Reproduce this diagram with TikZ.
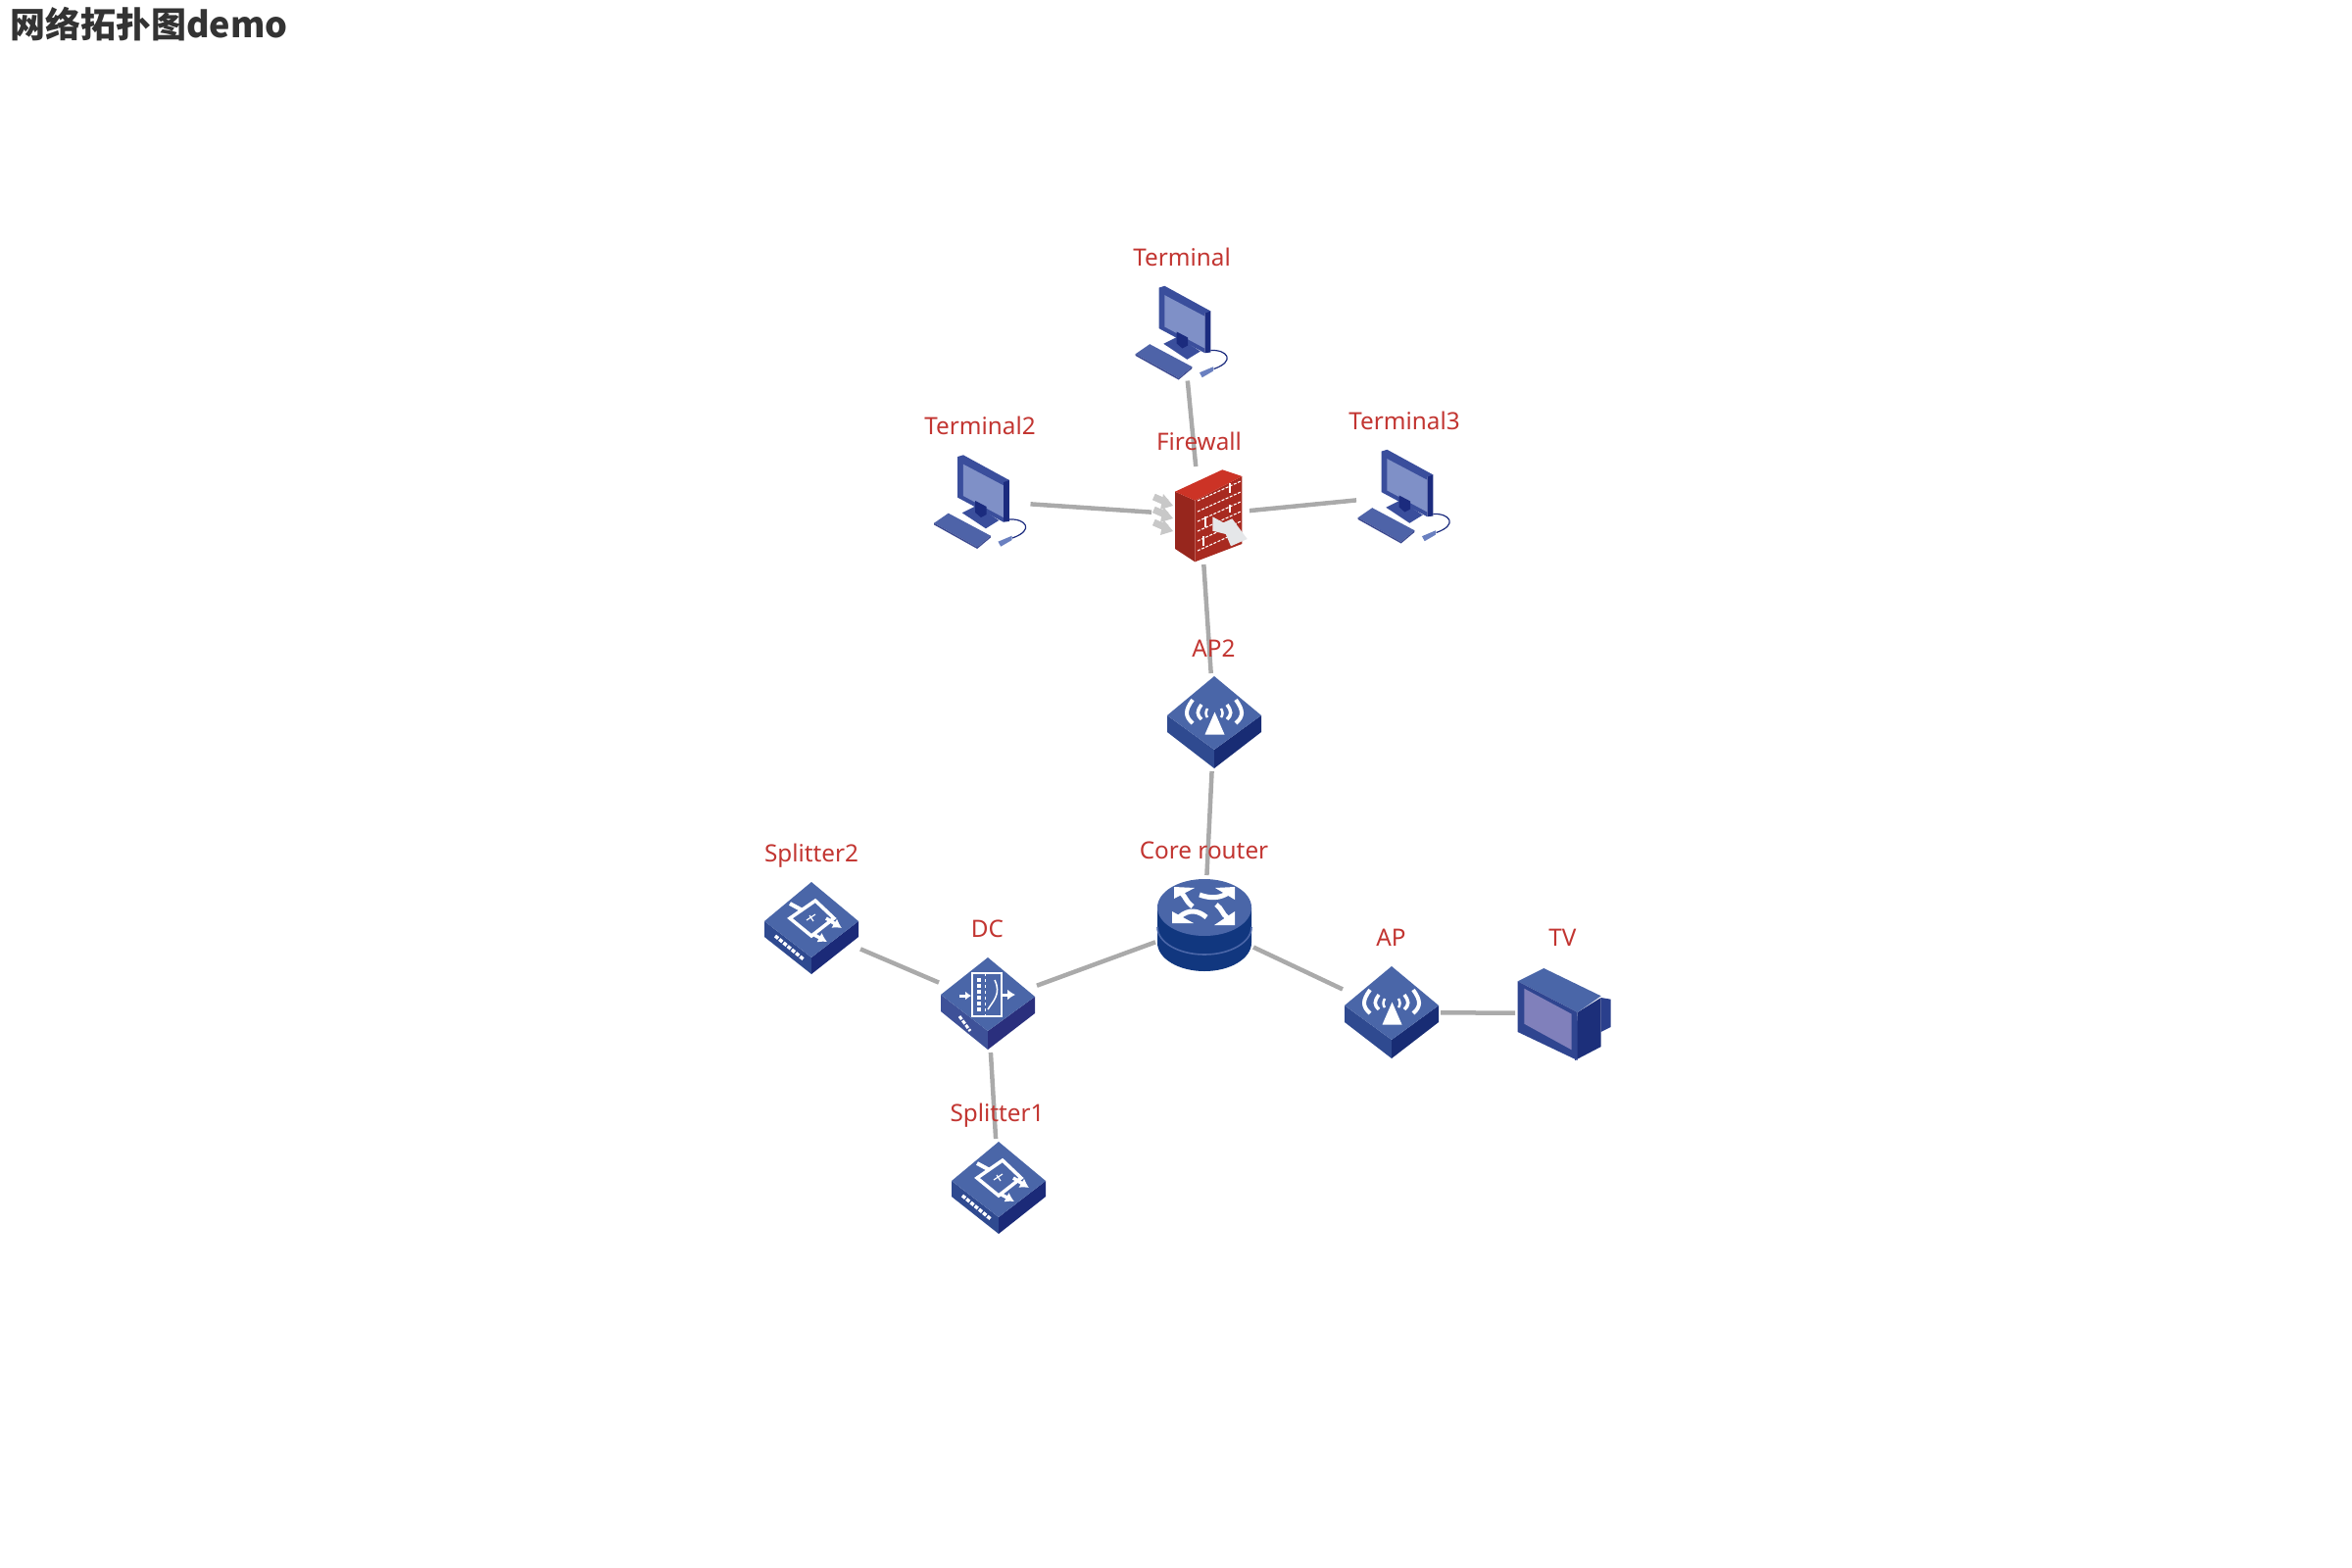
\documentclass[tikz,border=0pt]{standalone}
\usepackage{fontspec}
\setmainfont{Noto Sans}
\newfontfamily\titlefont{Noto Sans CJK SC}
\usetikzlibrary{arrows.meta}
\definecolor{lab}{HTML}{C23531}
\definecolor{edgegray}{HTML}{AAAAAA}
\definecolor{bTop}{HTML}{4A66A8}
\definecolor{bLeft}{HTML}{2F4A90}
\definecolor{bRight}{HTML}{182C74}
\definecolor{sRight}{HTML}{1B2A78}
\definecolor{dLeft}{HTML}{3E5198}
\definecolor{dRight}{HTML}{2A2F7D}
\definecolor{tvSide}{HTML}{1C2F7A}
\definecolor{rBody}{HTML}{11377F}
\definecolor{pcFrame}{HTML}{3A4E9C}
\definecolor{pcSide}{HTML}{1B2B7E}
\definecolor{pcScreen}{HTML}{7F90C7}
\definecolor{pcKey}{HTML}{4E63A8}
\definecolor{pcMouse}{HTML}{6A80C0}
\definecolor{fwTop}{HTML}{CC3326}
\definecolor{fwFace}{HTML}{A82A20}
\definecolor{fwArrow}{HTML}{E5E7E9}
\definecolor{fwGray}{HTML}{C8C8C8}
\definecolor{tvScreen}{HTML}{8080BB}
\definecolor{tvFront}{HTML}{2F4590}
\definecolor{tvBack}{HTML}{2A3F8C}
\tikzset{
  dev/.style={rectangle,minimum width=100pt,minimum height=100pt,inner sep=0pt,outer sep=0pt},
  link/.style={draw=edgegray,line width=4.5pt},
  lbl/.style={text=lab,font=\fontsize{24.3}{24.3}\selectfont,anchor=base,inner sep=0pt},
  wht/.style={draw=white,line width=3pt,line cap=butt},
  wthin/.style={draw=white,line width=1.6pt},
  blockbase/.pic={
    \fill[bLeft] (-48,-7) -- (0,28) -- (0,47) -- (-48,10) -- cycle;
    \fill[bRight] (48,-7) -- (0,28) -- (0,47) -- (48,10) -- cycle;
    \fill[bTop] (0,-47) -- (48,-7) -- (0,28) -- (-48,-7) -- cycle;
  },
  apicon/.pic={
    \pic {blockbase};
    \fill[white] (-9.5,12.5) -- (10.5,12.5) -- (0.5,-10.5) -- cycle;
    \foreach \s in {-1,1}{
      \draw[wht,line width=4pt] (\s*22,-23) .. controls (\s*30,-12) and (\s*30,-6) .. (\s*22,1);
      \draw[wht,line width=3.5pt] (\s*13,-18) .. controls (\s*18,-11) and (\s*18,-8) .. (\s*13,-3);
      \draw[wht,line width=2.5pt] (\s*7,-14) .. controls (\s*9,-10) and (\s*9,-8) .. (\s*7,-5);
    }
  },
  routericon/.pic={
    \fill[rBody] (-48,-17) -- (-48,19) arc[start angle=180,end angle=0,x radius=48,y radius=29] -- (48,-17) -- cycle;
    \draw[bTop,line width=1.6pt] (-48,3) arc[start angle=180,end angle=0,x radius=48,y radius=28];
    \fill[bTop] (0,-17) ellipse[x radius=48,y radius=29];
    \fill[white] (-31,-38) -- (-10,-37) -- (-31,-26) -- cycle;
    \fill[white] (31,-38) -- (11,-37) -- (31,-25) -- cycle;
    \fill[white] (-33,-1) -- (-11,-1) -- (-33,-13) -- cycle;
    \fill[white] (31,1) -- (10,1) -- (31,-13) -- cycle;
    \draw[wht,line width=5pt] (-24,-32) .. controls (-18,-27) and (-20,-24) .. (-12,-18);
    \draw[wht,line width=5pt] (26,-33) .. controls (16,-26) and (6,-26) .. (-5,-30);
    \draw[wht,line width=5pt] (-26,-7) .. controls (-16,-16) and (-6,-14) .. (2,-7);
    \draw[wht,line width=5pt] (24,-6) .. controls (18,-10) and (18,-16) .. (12,-20);
  },
  splittericon/.pic={
    \fill[bLeft] (-48,-7) -- (0,30) -- (0,47) -- (-48,9) -- cycle;
    \fill[sRight] (48,-7) -- (0,30) -- (0,47) -- (48,9) -- cycle;
    \fill[bTop] (0,-47) -- (48,-7) -- (0,30) -- (-48,-7) -- cycle;
    \draw[wht,line width=3.5pt] (4,-28) -- (23,-10) -- (0,8) -- (-22,-10) -- cycle;
    \draw[wht,line width=3.5pt,-{Latex[length=9pt,width=11pt]}] (15,-10) -- (31,0);
    \draw[wht,line width=3.5pt,-{Latex[length=9pt,width=11pt]}] (3,7) -- (16,14);
    \draw[wht,line width=4pt] (-22,-25) -- (-9,-18);
    \draw[wthin,line width=1.2pt] (-5,-8) -- (4,-14) (-2,-13) -- (2,-7);
    \draw[white,line width=3.5pt,dash pattern=on 4pt off 1.5pt] (-37,8) -- (-8,32);
  },
  dcicon/.pic={
    \fill[dLeft] (-48,-9) -- (0,28) -- (0,47) -- (-48,8) -- cycle;
    \fill[dRight] (48,-7) -- (0,28) -- (0,47) -- (48,10) -- cycle;
    \fill[bTop] (0,-47) -- (48,-7) -- (0,28) -- (-48,-9) -- cycle;
    \draw[white,line width=1.8pt] (-16,-31) rectangle (14,13);
    \draw[white,line width=1pt,dashed] (-3,-31) -- (-3,13);
    \draw[white,line width=1.5pt] (7,-24) .. controls (14,-10) and (5,-2) .. (0,6);
    \draw[white,line width=3.5pt,dash pattern=on 4pt off 2pt] (-9,-26) -- (-9,8);
    \draw[wht,-{Latex[length=6pt,width=9pt]}] (-29,-8) -- (-17,-8);
    \draw[wht,-{Latex[length=8pt,width=11pt]}] (15,-9) -- (28,-9);
    \draw[white,line width=3pt,dash pattern=on 4pt off 1.5pt] (-29,13) -- (-18,28);
  },
  pcicon/.pic={
    \begin{scope}[xscale=1.145,xshift=-0.5pt]
    \fill[pcSide] (25.3,-21) -- (25.3,21) -- (20,21.7) -- (20,-23) -- cycle;
    \fill[pcFrame] (-20.7,-45) -- (-15.7,-46.7) -- (25.3,-21) -- (20,-19) -- (20,21.7) -- (-20.7,-3.3) -- cycle;
    \fill[pcScreen] (-15.7,-37.3) -- (20,-15.7) -- (20,17) -- (-15.7,-5) -- cycle;
    \fill[pcFrame] (-16.7,12.3) -- (-4,5) -- (16,20) -- (4.3,28.3) -- cycle;
    \fill[pcSide] (-5,0) -- (5,6) -- (5,14) -- (0,17) -- (-5,12) -- cycle;
    \fill[pcKey] (-41.7,22.7) -- (-29,12.7) -- (8.7,35.7) -- (-3.3,47.3) -- cycle;
    \fill[pcSide!85!white] (-41.7,22.7) -- (-3.3,47.3) -- (8.7,35.7) -- (8.7,37.5) -- (-3.3,49) -- (-41.7,24.5) -- cycle;
    \draw[pcSide,line width=1.2pt] (25.3,19) .. controls (40,18) and (48,30) .. (28,38);
    \fill[pcMouse] (15.3,41.7) -- (27.7,35.7) -- (27.7,40) -- (17.7,46.7) -- cycle;
    \end{scope}
  },
  fwicon/.pic={
    \foreach \yy in {-19,-6,7}{
      \draw[fwGray,line width=7pt] (-47.7,\yy) -- (-34,\yy+6);
      \fill[fwGray] (-38,\yy-3) -- (-28,\yy+9) -- (-41,\yy+13) -- cycle;
    }
    \fill[fwFace!90!black] (-26,-24.3) -- (-5.7,-15.3) -- (-5.7,47.3) -- (-26,34) -- cycle;
    \fill[fwFace] (-5.7,-15.3) -- (42.3,-40) -- (42.3,29) -- (-5.7,47.3) -- cycle;
    \fill[fwTop] (-26,-24.3) -- (22.3,-46.7) -- (42.3,-40) -- (-5.7,-15.3) -- cycle;
    \foreach \yy in {-15,-4,6,16,26,36}{
      \draw[white,line width=1.1pt,dash pattern=on 3pt off 1.5pt] (-3,\yy) -- (41,\yy-20);
    }
    \draw[white,line width=1.2pt] (30,-33) -- (30,-23) (30,-11) -- (30,-3) (5,1) -- (5,12) (3,21) -- (3,31);
    \fill[fwArrow] (12.3,1.3) -- (23.3,7.3) -- (32.3,3.3) -- (47.7,24) -- (31,31.3) -- (25.7,19) -- (12.3,15.7) -- cycle;
  },
  tvicon/.pic={
    \fill[tvBack] (37.7,-16) -- (47.7,-14.3) -- (47.7,14) -- (37.7,19) -- cycle;
    \fill[tvSide] (13.7,-1) -- (37.7,-16) -- (37.7,34) -- (11,48) -- cycle;
    \fill[bTop] (-47.3,-32.7) -- (-20.7,-46) -- (37.7,-17.7) -- (13.7,-1) -- cycle;
    \fill[tvFront] (-47.3,-32.7) -- (13.7,-1) -- (13.7,48) -- (-47.3,19) -- cycle;
    \fill[tvScreen] (-40.7,-25.3) -- (7.7,0.7) -- (7.7,37.3) -- (-40.7,10.7) -- cycle;
  }
}
\begin{document}
\begin{tikzpicture}[x=1pt,y=-1pt]
\useasboundingbox (0,0) rectangle (2400,1600);
% title
\node[anchor=base west,inner sep=0pt,text=black!80] (title) at (10,38.5)
  {\titlefont\bfseries\fontsize{36}{36}\selectfont 网络拓扑图demo};
% device boxes
\node[dev] (terminal) at (1207,338.5) {};
\node[dev] (terminal2) at (1001.5,511) {};
\node[dev] (terminal3) at (1434,505.5) {};
\node[dev] (firewall) at (1225,526) {};
\node[dev] (ap2) at (1239,737) {};
\node[dev] (core) at (1229,943) {};
\node[dev] (ap) at (1420,1033) {};
\node[dev] (tv) at (1596,1034) {};
\node[dev] (dc) at (1008,1024) {};
\node[dev] (splitter2) at (828,947) {};
\node[dev] (splitter1) at (1019,1212) {};
% connectors
\draw[link] (terminal) -- (firewall);
\draw[link] (terminal2) -- (firewall);
\draw[link] (terminal3) -- (firewall);
\draw[link] (firewall) -- (ap2);
\draw[link] (ap2) -- (core);
\draw[link] (core) -- (ap);
\draw[link] (ap) -- (tv);
\draw[link] (core) -- (dc);
\draw[link] (dc) -- (splitter2);
\draw[link] (dc) -- (splitter1);
% icons
\pic at (terminal) {pcicon};
\pic at (terminal2) {pcicon};
\pic at (terminal3) {pcicon};
\pic at (firewall) {fwicon};
\pic at (ap2) {apicon};
\pic at (core) {routericon};
\pic at (ap) {apicon};
\pic at (tv) {tvicon};
\pic at (dc) {dcicon};
\pic at (splitter2) {splittericon};
\pic at (splitter1) {splittericon};
% labels
\node[lbl] (lterminal) at (1206,271) {Terminal};
\node[lbl] (lterminal2) at (1000,443) {Terminal2};
\node[lbl] (lterminal3) at (1433,438.5) {Terminal3};
\node[lbl] (lfirewall) at (1223.5,459.5) {Firewall};
\node[lbl] (lap2) at (1238.5,670) {AP2};
\node[lbl] (lcore) at (1228.5,876.5) {Core router};
\node[lbl] (lap) at (1419.5,965) {AP};
\node[lbl] (ltv) at (1594.5,965.5) {TV};
\node[lbl] (ldc) at (1007.5,956) {DC};
\node[lbl] (lsplitter2) at (828,879) {Splitter2};
\node[lbl] (lsplitter1) at (1017.5,1144) {Splitter1};
\end{tikzpicture}
\end{document}
